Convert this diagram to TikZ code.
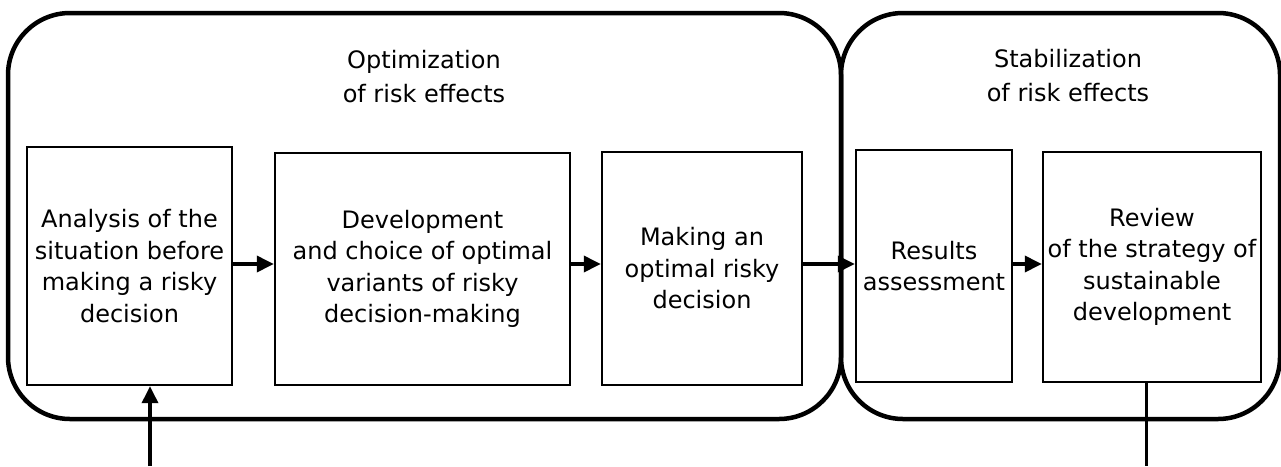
\documentclass[tikz,border=0pt]{standalone}
\usepackage{fontspec}
\setmainfont{DejaVu Sans}
\usetikzlibrary{arrows.meta}
\begin{document}
\begin{tikzpicture}[x=1pt,y=-1pt,
  stagebox/.style={draw=black,line width=4.5pt,rounded corners=62pt},
  procbox/.style={draw=black,line width=2.4pt,inner sep=0pt,align=center,
    font=\fontsize{24}{31.5}\selectfont},
  titletext/.style={inner sep=0pt,align=center,anchor=north,
    font=\fontsize{24}{34}\selectfont},
  arr/.style={line width=3.5pt,-{Triangle[length=17pt,width=16pt]}},
  plainline/.style={line width=3pt}]
\useasboundingbox (0,0) rectangle (1281,466);
% stages
\draw[stagebox] (8,13) rectangle (841,419);
\draw[stagebox] (841,13) rectangle (1280,419);
\node[titletext] (t1) at (424,50) {Optimization\\of risk effects};
\node[titletext] (t2) at (1068,49) {Stabilization\\of risk effects};
% boxes
\node[procbox,minimum width=205pt,minimum height=238pt] (A) at (129.5,266)
  {Analysis of the\\situation before\\making a risky\\decision};
\node[procbox,minimum width=295pt,minimum height=232pt] (B) at (422.5,269)
  {Development\\and choice of optimal\\variants of risky\\decision-making};
\node[procbox,minimum width=200pt,minimum height=233pt] (C) at (702,268.5)
  {Making an\\optimal risky\\decision};
\node[procbox,minimum width=156pt,minimum height=232pt] (D) at (934,266)
  {Results\\assessment};
\node[procbox,minimum width=218pt,minimum height=230pt] (E) at (1152,267)
  {Review\\of the strategy of\\sustainable\\development};
% connectors
\coordinate (ay) at (0,264);
\draw[arr] (A.east |- ay) -- (B.west |- ay);
\draw[arr] (B.east |- ay) -- (C.west |- ay);
\draw[arr] (C.east |- ay) -- (D.west |- ay);
\draw[arr] (D.east |- ay) -- (E.west |- ay);
\coordinate (inA) at (150,466);
\coordinate (outE) at (1146,466);
\draw[arr] (inA) -- (inA |- A.south);
\draw[plainline] (E.south -| outE) -- (outE);
\end{tikzpicture}
\end{document}
